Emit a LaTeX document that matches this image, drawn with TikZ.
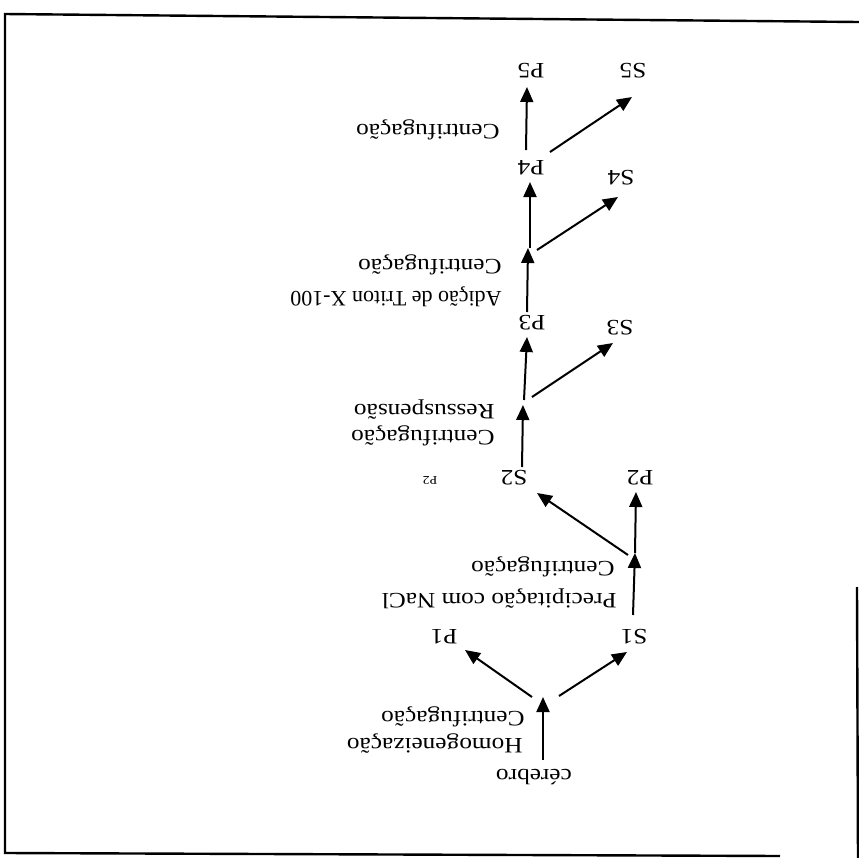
\documentclass[tikz,border=0pt]{standalone}
\usepackage{fontspec}
\setmainfont{Liberation Serif}[FakeStretch=1.15]
\newfontfamily\plainserif{Liberation Serif}
\usetikzlibrary{arrows.meta}
\begin{document}
\begin{tikzpicture}[x=0.5pt,y=-0.5pt,
  arr/.style={line width=1pt,-{Triangle[length=7.5pt,width=6.5pt]}},
  txt/.style={rotate=180,anchor=west,inner sep=0pt,font=\fontsize{11}{13}\selectfont},
  word/.style={rotate=180,inner sep=0pt,font=\fontsize{11}{13}\selectfont},
  lbl/.style={rotate=180,inner sep=0pt,font=\fontsize{11}{13}\selectfont},
  tiny/.style={rotate=180,inner sep=0pt,font=\fontsize{6}{7}\selectfont},
  frame/.style={line width=1.2pt}]
\useasboundingbox (0,0) rectangle (859,858);
% frame
\draw[frame] (859,22) -- (5,14) -- (5,853) -- (780,856);
\draw[frame] (857,587) -- (858,858);
% texts
\node[word] (cer) at (534,777) {cérebro};
\node[txt] (hom) at (523,744) {Homogeneização};
\node[txt] (cen1) at (525,717) {Centrifugação};
\node[txt] (pre) at (617,599) {Precipitação com NaCl};
\node[txt] (cen2) at (615,567) {Centrifugação};
\node[txt] (cen3) at (495,436) {Centrifugação};
\node[txt] (res) at (495,410) {Ressuspensão};
\node[txt,font=\fontsize{11}{13}\plainserif] (adi) at (502,297) {Adição de Triton X-100};
\node[txt] (cen4) at (502,265) {Centrifugação};
\node[txt] (cen5) at (500,130) {Centrifugação};
% labels
\node[lbl] (P1) at (444,637) {P1};
\node[lbl] (S1) at (634,637) {S1};
\node[lbl] (P2) at (640,478) {P2};
\node[lbl] (S2) at (514,478) {S2};
\node[tiny] (P2b) at (430,480) {P2};
\node[lbl] (P3) at (532,323) {P3};
\node[lbl] (S3) at (620,328) {S3};
\node[lbl] (P4) at (531,168) {P4};
\node[lbl] (S4) at (621,178) {S4};
\node[lbl] (P5) at (531,71) {P5};
\node[lbl] (S5) at (633,71) {S5};
% connector end points
\coordinate (c1s) at (543,760); \coordinate (c1e) at (543,697);
\coordinate (p1s) at (532,697); \coordinate (p1e) at (465,650);
\coordinate (s1s) at (559,696); \coordinate (s1e) at (627,652);
\coordinate (u1s) at (633,615); \coordinate (u1e) at (635,553);
\coordinate (p2s) at (635,553); \coordinate (p2e) at (636,492);
\coordinate (s2s) at (628,555); \coordinate (s2e) at (537,493);
\coordinate (u2s) at (522,467); \coordinate (u2e) at (523,405);
\coordinate (p3s) at (524,400); \coordinate (p3e) at (527,337);
\coordinate (s3s) at (532,397); \coordinate (s3e) at (613,343);
\coordinate (u3s) at (527,312); \coordinate (u3e) at (528,248);
\coordinate (p4s) at (530,248); \coordinate (p4e) at (530,182);
\coordinate (s4s) at (537,250); \coordinate (s4e) at (618,197);
\coordinate (u4s) at (526,150); \coordinate (u4e) at (527,87);
\coordinate (s5s) at (550,152); \coordinate (s5e) at (632,97);
% connectors
\draw[arr] (c1s) -- (c1e);
\draw[arr] (p1s) -- (p1e);
\draw[arr] (s1s) -- (s1e);
\draw[arr] (u1s) -- (u1e);
\draw[arr] (p2s) -- (p2e);
\draw[arr] (s2s) -- (s2e);
\draw[arr] (u2s) -- (u2e);
\draw[arr] (p3s) -- (p3e);
\draw[arr] (s3s) -- (s3e);
\draw[arr] (u3s) -- (u3e);
\draw[arr] (p4s) -- (p4e);
\draw[arr] (s4s) -- (s4e);
\draw[arr] (u4s) -- (u4e);
\draw[arr] (s5s) -- (s5e);
\end{tikzpicture}
\end{document}
